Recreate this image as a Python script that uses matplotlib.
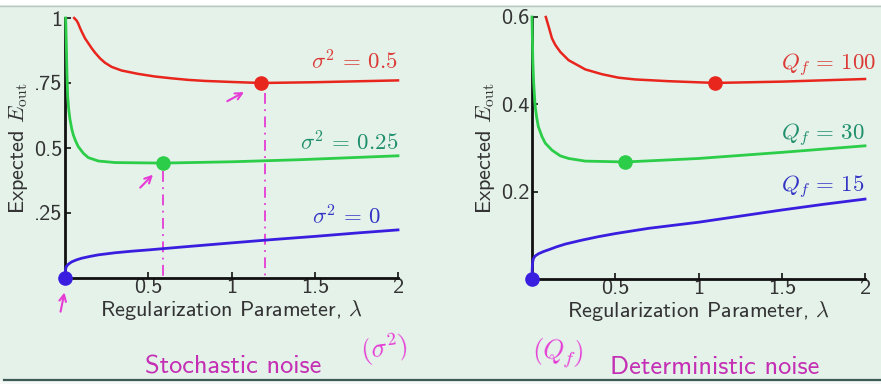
import matplotlib
matplotlib.use("Agg")
import matplotlib.pyplot as plt
from matplotlib.patches import Rectangle
from matplotlib.lines import Line2D

plt.rcParams['mathtext.fontset'] = 'cm'
plt.rcParams['font.family'] = ['cmss10', 'DejaVu Sans']
plt.rcParams['axes.unicode_minus'] = False

# ---------------- data ----------------
# Stochastic noise panel
sto_red_lam = [0.055, 0.07, 0.08, 0.09, 0.10, 0.12, 0.14, 0.16, 0.18, 0.21, 0.24, 0.28, 0.34, 0.44,
               0.54, 0.64, 0.74, 0.84, 1.0, 1.18, 1.5, 2.0]
sto_red_E   = [1.0, 0.99, 0.978, 0.962, 0.948, 0.922, 0.903, 0.884, 0.867, 0.845, 0.828, 0.812, 0.798, 0.785,
               0.775, 0.768, 0.762, 0.758, 0.754, 0.75, 0.753, 0.76]
sto_green_lam = [0.004, 0.008, 0.012, 0.016, 0.022, 0.03, 0.04, 0.05, 0.065, 0.08, 0.11, 0.14, 0.2, 0.3,
                 0.59, 1.0, 1.41, 2.0]
sto_green_E   = [1.0, 0.9, 0.78, 0.70, 0.65, 0.61, 0.575, 0.55, 0.525, 0.505, 0.48, 0.463, 0.45, 0.444,
                 0.442, 0.447, 0.455, 0.47]
sto_blue_lam = [0.0, 0.001, 0.003, 0.006, 0.01, 0.02, 0.04, 0.07, 0.1, 0.15, 0.2, 0.3, 0.4, 0.5, 0.7,
                1.0, 1.25, 1.5, 1.75, 2.0]
sto_blue_E   = [0.0, 0.02, 0.032, 0.04, 0.046, 0.053, 0.062, 0.07, 0.076, 0.083, 0.089, 0.097, 0.103, 0.108,
                0.119, 0.135, 0.148, 0.16, 0.173, 0.185]
sto_opt_lam = [1.18, 0.59, 0.0]
sto_opt_E   = [0.75, 0.442, 0.0]
sto_labels = [r'$\sigma^2 \,=\, 0.5$', r'$\sigma^2 \,=\, 0.25$', r'$\sigma^2 \,=\, 0$']
sto_label_lam = [2.0, 2.0, 1.9]
sto_label_E = [0.80, 0.49, 0.204]

# Deterministic noise panel
det_red_lam = [0.083, 0.1, 0.12, 0.14, 0.17, 0.22, 0.32, 0.42, 0.52, 0.62, 0.72, 0.82, 1.1, 1.5, 2.0]
det_red_E   = [0.6, 0.578, 0.551, 0.536, 0.52, 0.501, 0.48, 0.469, 0.461, 0.457, 0.455, 0.453, 0.449, 0.452, 0.458]
det_green_lam = [0.0, 0.005, 0.01, 0.018, 0.028, 0.038, 0.06, 0.08, 0.12, 0.17, 0.22, 0.32, 0.56, 1.0, 1.5, 2.0]
det_green_E   = [0.6, 0.5, 0.45, 0.40, 0.37, 0.349, 0.326, 0.311, 0.295, 0.282, 0.276, 0.27, 0.268, 0.276, 0.29, 0.305]
det_blue_lam = [0.0, 0.001, 0.003, 0.006, 0.01, 0.02, 0.04, 0.07, 0.1, 0.15, 0.2, 0.3, 0.4, 0.5, 0.7,
                1.0, 1.25, 1.5, 1.75, 2.0]
det_blue_E   = [0.0, 0.02, 0.035, 0.043, 0.048, 0.053, 0.058, 0.063, 0.067, 0.074, 0.08, 0.089, 0.097, 0.104,
                0.116, 0.13, 0.144, 0.158, 0.171, 0.183]
det_opt_lam = [1.1, 0.56, 0.0]
det_opt_E   = [0.449, 0.268, 0.0]
det_labels = [r'$Q_f \,=\, 100$', r'$Q_f \,=\, 30$', r'$Q_f \,=\, 15$']
det_label_lam = [2.07, 2.0, 2.0]
det_label_E = [0.479, 0.318, 0.20]

x_ticks = [0.5, 1, 1.5, 2]
x_ticklabels = ['0.5', '1', '1.5', '2']
sto_yticks = [0.25, 0.5, 0.75, 1.0]
sto_yticklabels = ['.25', '0.5', '.75', '1']
det_yticks = [0.2, 0.4, 0.6]
det_yticklabels = ['0.2', '0.4', '0.6']

# ---------------- styling ----------------
BG = '#e4f2ea'
RED = '#e8261e'
GREEN = '#2ccd48'
BLUE = '#3a1ee0'
LBL_COLORS = ['#dc3a36', '#1f8f6c', '#3434c4']
MAG = '#e63cd6'
MAG_TXT = '#c42fb4'

fig = plt.figure(figsize=(8.81, 3.84), dpi=100, facecolor=BG)

# top white strip and bottom bar
fig.patches.append(Rectangle((0, 1 - 5/384), 1, 5/384, transform=fig.transFigure,
                             facecolor='white', edgecolor='none', zorder=0))
fig.add_artist(Line2D([0, 1], [1 - 5.5/384, 1 - 5.5/384], color='#b8c8c0', lw=1.0))
fig.patches.append(Rectangle((0, 0), 1, 4/384, transform=fig.transFigure,
                             facecolor='#f4f8f6', edgecolor='none', zorder=0))
fig.add_artist(Line2D([4/881, 1], [4.5/384, 4.5/384], color='#3d5a55', lw=1.6))

W, H = 881.0, 384.0
ax1 = fig.add_axes([65/W, 1 - 278/H, 333/W, 260/H])
ax2 = fig.add_axes([532/W, 1 - 279/H, 333/W, 262/H])


def style(ax, ymax, yticks, yticklabels):
    ax.set_facecolor('none')
    ax.set_xlim(0, 2)
    ax.set_ylim(0, ymax)
    for s in ['top', 'right']:
        ax.spines[s].set_visible(False)
    for s in ['left', 'bottom']:
        ax.spines[s].set_linewidth(2.0)
        ax.spines[s].set_color('#111111')
    ax.set_xticks(x_ticks)
    ax.set_xticklabels(x_ticklabels)
    ax.set_yticks(yticks)
    ax.set_yticklabels(yticklabels)
    ax.tick_params(direction='in', length=4, width=1.2, labelsize=16,
                   colors='#111111', labelcolor='#333333')
    ax.tick_params(axis='x', pad=0)
    ax.tick_params(axis='y', pad=2)
    ax.set_xlabel(r'Regularization Parameter, $\lambda$', fontsize=16, color='#333333', labelpad=1)
    ax.set_ylabel(r'Expected $E_{\rm out}$', fontsize=16, color='#333333', labelpad=3)


style(ax1, 1.0, sto_yticks, sto_yticklabels)
style(ax2, 0.6, det_yticks, det_yticklabels)

for ax, rl, re, gl, ge, bl, be, ol, oe, labs, llam, lE in [
        (ax1, sto_red_lam, sto_red_E, sto_green_lam, sto_green_E, sto_blue_lam, sto_blue_E,
         sto_opt_lam, sto_opt_E, sto_labels, sto_label_lam, sto_label_E),
        (ax2, det_red_lam, det_red_E, det_green_lam, det_green_E, det_blue_lam, det_blue_E,
         det_opt_lam, det_opt_E, det_labels, det_label_lam, det_label_E)]:
    ax.plot(rl, re, color=RED, lw=1.8, clip_on=False, zorder=3, solid_joinstyle='round')
    ax.plot(gl, ge, color=GREEN, lw=2.0, clip_on=False, zorder=3, solid_joinstyle='round')
    ax.plot(bl, be, color=BLUE, lw=2.0, clip_on=False, zorder=3, solid_joinstyle='round')
    for lam, e, c in zip(ol, oe, [RED, GREEN, BLUE]):
        ax.plot([lam], [e], 'o', ms=9.5, color=c, mec=c, clip_on=False, zorder=5)
    for t, lam, e, c in zip(labs, llam, lE, LBL_COLORS):
        ax.text(lam, e, t, color=c, fontsize=16.5, ha='right', va='baseline')

# ---------------- hand-drawn annotations (left panel) ----------------
ax1.plot([sto_opt_lam[1], sto_opt_lam[1]], [sto_opt_E[1] - 0.03, 0.0], color=MAG, lw=1.3,
         ls=(0, (6, 3, 1, 3)), zorder=2, clip_on=False)
ax1.plot([sto_opt_lam[0] + 0.02, sto_opt_lam[0] + 0.02], [sto_opt_E[0] - 0.04, 0.0], color=MAG, lw=1.3,
         ls=(0, (6, 3, 1, 3)), zorder=2, clip_on=False)
arrow_kw = dict(arrowstyle='->', color=MAG, lw=1.5, mutation_scale=12)
ax1.annotate('', xy=(1.09, 0.72), xytext=(0.96, 0.675), arrowprops=arrow_kw, annotation_clip=False)
ax1.annotate('', xy=(0.54, 0.405), xytext=(0.44, 0.34), arrowprops=arrow_kw, annotation_clip=False)
ax1.annotate('', xy=(0.0, -0.045), xytext=(-0.03, -0.14), arrowprops=arrow_kw, annotation_clip=False)

# handwritten notes
fig.text(384/W, 1 - 349/H, r'$(\sigma^2)$', color=MAG, fontsize=19, ha='center', va='center', rotation=8)
fig.text(558/W, 1 - 353/H, r'$(Q_f)$', color=MAG, fontsize=19, ha='center', va='center', rotation=-4)

fig.text(233/W, 1 - 367/H, 'Stochastic noise', color=MAG_TXT, fontsize=19, ha='center', va='center')
fig.text(715/W, 1 - 367/H, 'Deterministic noise', color=MAG_TXT, fontsize=19, ha='center', va='center')

fig.savefig('out.png', dpi=100, facecolor=BG)
